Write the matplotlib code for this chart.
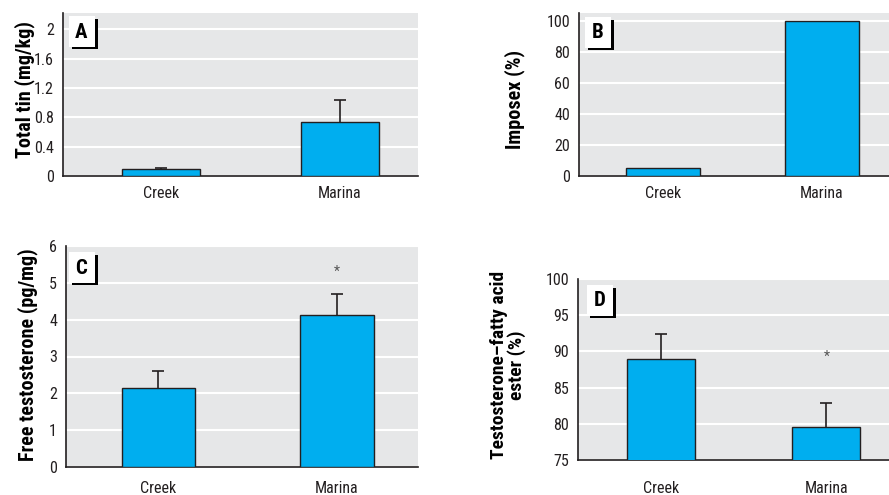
import matplotlib
matplotlib.use("Agg")
import matplotlib.pyplot as plt
from matplotlib.patches import Rectangle

plt.rcParams['font.family'] = ['Roboto Condensed', 'DejaVu Sans']

W, H = 889, 495

sites = ["Creek", "Marina"]

tin_mean = [0.09, 0.74]
tin_err = [0.02, 0.29]

imposex = [5.4, 100]

free_t_mean = [2.14, 4.13]
free_t_err = [0.46, 0.56]

ester_mean = [89.0, 79.6]
ester_err = [3.4, 3.3]

bar_color = "#00aeef"
edge = "#231f20"
bg = "#e6e7e8"


def px_axes(left, top, right, bottom):
    return fig.add_axes([left / W, 1 - bottom / H, (right - left) / W, (bottom - top) / H])


def style(ax, ylim, yticks, xlim, xpad):
    ax.set_facecolor(bg)
    ax.set_ylim(*ylim)
    ax.set_xlim(*xlim)
    ax.set_yticks(yticks)
    ax.set_xticks([0, 1])
    ax.set_xticklabels(sites)
    for s in ["top", "right"]:
        ax.spines[s].set_visible(False)
    for s in ["left", "bottom"]:
        ax.spines[s].set_color(edge)
        ax.spines[s].set_linewidth(1.2)
    ax.tick_params(axis="both", length=0, labelsize=11.5, colors="#231f20")
    ax.tick_params(axis="y", pad=6.5)
    ax.tick_params(axis="x", pad=xpad)
    ax.yaxis.grid(True, color="white", lw=1.5)
    ax.set_axisbelow(True)


def err_up(ax, means, errs):
    tops = [m + e for m, e in zip(means, errs)]
    ax.vlines([0, 1], means, tops, color=edge, lw=1.2, zorder=2)
    ax.plot([0, 1], tops, ls="none", marker="_", ms=8, mew=1.2, color=edge, zorder=2)


def letter_box(label, x, y):
    # black shadow offset 3 px, white box on top (reference pixel coords)
    sh = Rectangle(((x + 3) / W, 1 - (y + 33) / H), 26 / W, 30 / H,
                   transform=fig.transFigure, facecolor="black", edgecolor="none", zorder=10)
    wb = Rectangle((x / W, 1 - (y + 31) / H), 25.5 / W, 31 / H,
                   transform=fig.transFigure, facecolor="white", edgecolor="none", zorder=11)
    fig.add_artist(sh)
    fig.add_artist(wb)
    fig.text((x + 12.5) / W, 1 - (y + 16) / H, label, ha="center", va="center",
             fontsize=15, fontweight="bold", zorder=12)


fig = plt.figure(figsize=(W / 100, H / 100), dpi=100)

# A
axA = px_axes(63, 13, 418, 176)
style(axA, (0, 2.22), [0, 0.4, 0.8, 1.2, 1.6, 2], (-0.547, 1.436), 7)
axA.set_yticklabels(["0", "0.4", "0.8", "1.2", "1.6", "2"])
axA.bar([0, 1], tin_mean, width=0.44, color=bar_color, edgecolor=edge, lw=1, zorder=3)
err_up(axA, tin_mean, tin_err)
axA.set_ylabel("Total tin (mg/kg)", fontsize=14.5, fontweight="bold", va="center")
axA.yaxis.set_label_coords(-0.107, 0.53)

# B
axB = px_axes(579, 13, 891, 176)
style(axB, (0, 105), [0, 20, 40, 60, 80, 100], (-0.528, 1.434), 7)
axB.bar([0, 1], imposex, width=0.46, color=bar_color, edgecolor=edge, lw=1, zorder=3)
axB.set_ylabel("Imposex (%)", fontsize=14.5, fontweight="bold", va="center")
axB.yaxis.set_label_coords(-0.205, 0.47)

# C
axC = px_axes(66, 246, 418, 467)
style(axC, (0, 6), [0, 1, 2, 3, 4, 5, 6], (-0.518, 1.454), 10)
axC.bar([0, 1], free_t_mean, width=0.41, color=bar_color, edgecolor=edge, lw=1, zorder=3)
err_up(axC, free_t_mean, free_t_err)
axC.text(1, 5.3, "*", ha="center", va="center", fontsize=10, color="#555555")
axC.set_ylabel("Free testosterone (pg/mg)", fontsize=14.5, fontweight="bold", va="center")
axC.yaxis.set_label_coords(-0.108, 0.51)

# D
axD = px_axes(578, 279, 891, 460)
style(axD, (75, 100), [75, 80, 85, 90, 95, 100], (-0.50, 1.39), 15)
axD.bar([0, 1], ester_mean, width=0.41, color=bar_color, edgecolor=edge, lw=1, zorder=3)
err_up(axD, ester_mean, ester_err)
axD.text(1, 89.3, "*", ha="center", va="center", fontsize=10, color="#555555")
axD.set_ylabel("Testosterone\u2013fatty acid\nester (%)", fontsize=14, fontweight="bold",
               va="center", linespacing=0.95)
axD.yaxis.set_label_coords(-0.224, 0.525)

letter_box("A", 69, 16)
letter_box("B", 585, 17)
letter_box("C", 69, 252)
letter_box("D", 587, 285)

fig.savefig("out.png", dpi=100)
